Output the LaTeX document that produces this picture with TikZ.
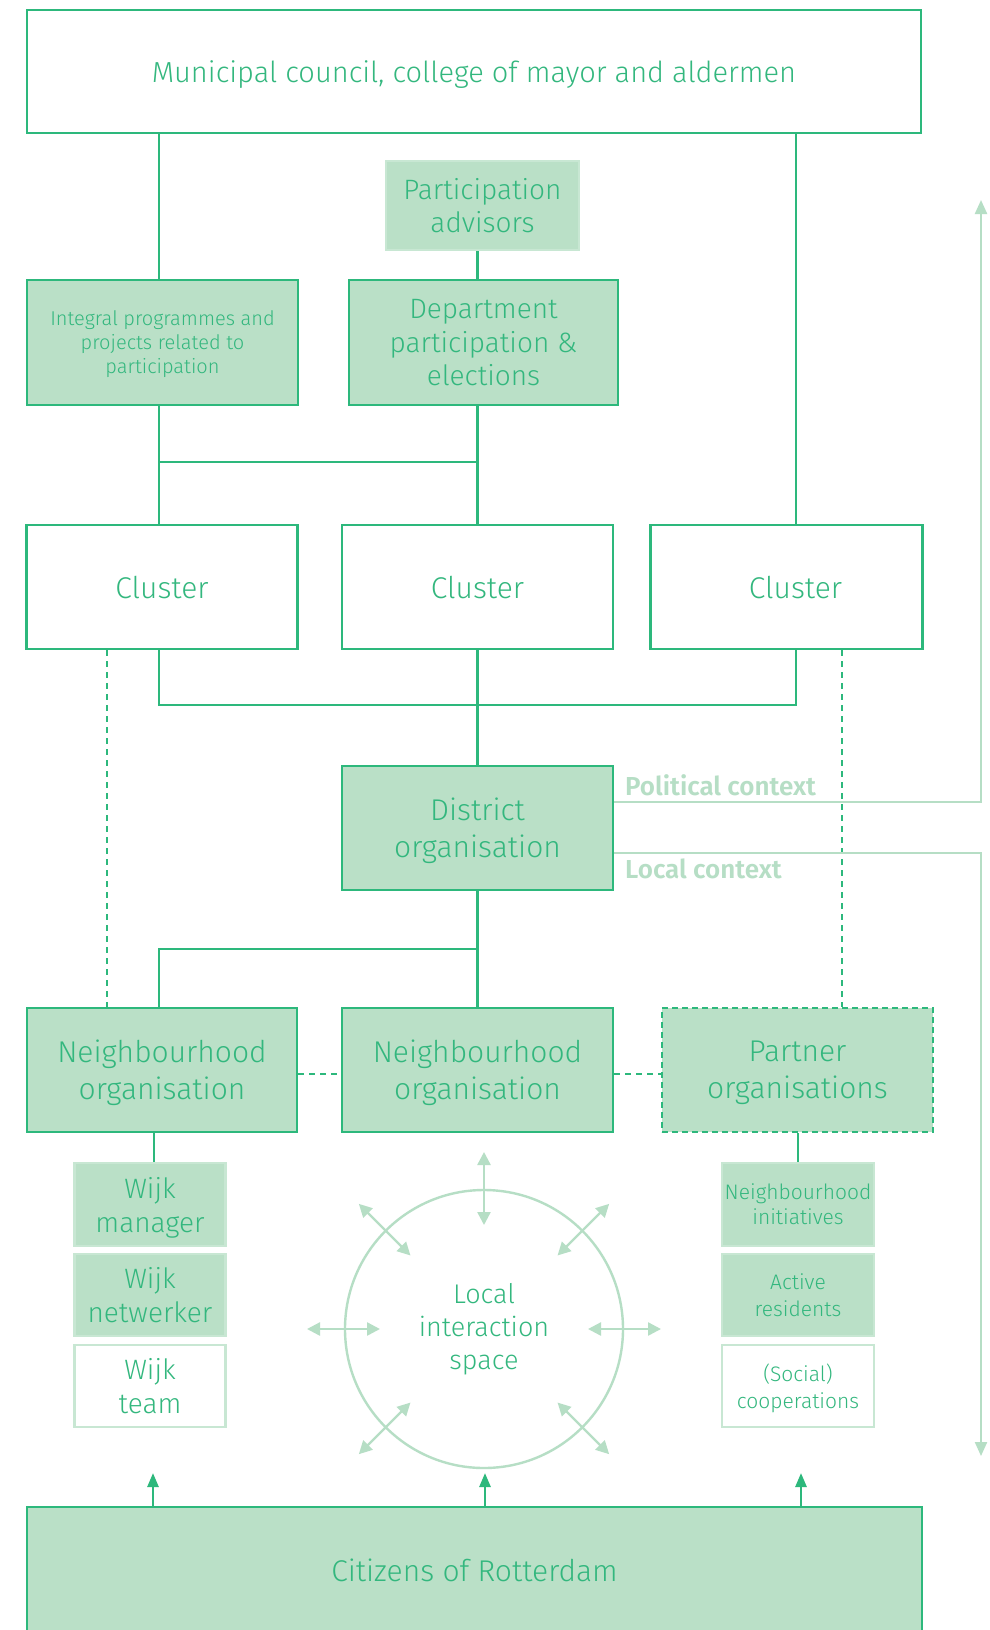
\documentclass[tikz,border=0pt]{standalone}
\usepackage{fontspec}
\setmainfont{Fira Sans Light}[BoldFont={Fira Sans SemiBold}]
\usetikzlibrary{arrows.meta,calc}
\definecolor{dkgreen}{HTML}{2DB87C}
\definecolor{txtgreen}{HTML}{33B77E}
\definecolor{ltgreen}{HTML}{BAE0C7}
\definecolor{ltline}{HTML}{B6DEC5}
\definecolor{paleline}{HTML}{C8E7D3}
\newcommand\fsz[2]{\fontsize{#1}{#2}\selectfont}
\tikzset{
  base/.style={text=txtgreen, align=center, inner sep=0pt, text depth=0pt, line width=2.8pt},
  whitebox/.style={base, draw=dkgreen, fill=white},
  fillbox/.style={base, draw=dkgreen, fill=ltgreen},
  palebox/.style={base, draw=paleline, fill=ltgreen, line width=2.2pt},
  paleopen/.style={base, draw=paleline, fill=white, line width=2.2pt},
  link/.style={draw=dkgreen, line width=2.6pt},
  dlink/.style={link, dash pattern=on 6pt off 5pt},
  ctx/.style={draw=ltline, line width=2.2pt},
  ctxlabel/.style={text=ltline, font=\fsz{26}{30}\bfseries, inner sep=0pt},
  lisarrow/.style={draw=ltline, line width=2.4pt,
    {Triangle[width=13pt,length=13pt]}-{Triangle[width=13pt,length=13pt]}},
  uparrow/.style={link, -{Triangle[width=11pt,length=14pt]}},
  ctxtip/.style={-{Triangle[width=12pt,length=14pt]}}
}
\begin{document}
\begin{tikzpicture}[x=1pt,y=-1pt]
\clip (0,0) rectangle (989,1630);
\fill[white] (0,0) rectangle (989,1630);

% helper coordinates for connector positions
\coordinate (xL) at (159,0);
\coordinate (xR) at (796,0);
\coordinate (xW) at (154,0);
\coordinate (xDL) at (107,0);
\coordinate (xDR) at (842,0);
\coordinate (busA) at (477.5,462);
\coordinate (busB) at (477.5,705);
\coordinate (busC) at (477.5,949);
\coordinate (yD) at (0,1074);
\coordinate (yPol) at (0,802);
\coordinate (yLoc) at (0,853);
\coordinate (ctxTop) at (981,200);
\coordinate (ctxBot) at (981,1456);
\coordinate (aL) at (153,1473);
\coordinate (aM) at (485,1473);
\coordinate (aR) at (801,1473);

% boxes
\node[whitebox, minimum width=894pt, minimum height=123pt, font=\fsz{29}{35}] (top) at (474,71.5) {Municipal council, college of mayor and aldermen};
\node[palebox, minimum width=193pt, minimum height=89pt, font=\fsz{28}{33}] (padv) at (482.5,205.5) {Participation\\advisors};
\node[fillbox, minimum width=271pt, minimum height=125pt, font=\fsz{20}{24}] (integ) at (162.5,342.5) {Integral programmes and\\projects related to\\participation};
\node[fillbox, minimum width=269pt, minimum height=125pt, font=\fsz{28}{33.5}] (dept) at (483.5,342.5) {Department\\participation \&\\elections};

\node[whitebox, minimum width=271pt, minimum height=124pt, font=\fsz{30}{36}] (c1) at (162,587) {Cluster};
\node[whitebox, minimum width=271pt, minimum height=124pt, font=\fsz{30}{36}] (c2) at (477.5,587) {Cluster};
\node[whitebox, minimum width=272pt, minimum height=124pt, font=\fsz{30}{36}] (c3) at (786.5,587) {\hspace*{18pt}Cluster};

\node[fillbox, minimum width=271pt, minimum height=124pt, font=\fsz{30}{37}] (district) at (477.5,828) {District\\organisation};

\node[fillbox, minimum width=270pt, minimum height=124pt, font=\fsz{30}{37}] (nb1) at (162,1070) {Neighbourhood\\organisation};
\node[fillbox, minimum width=271pt, minimum height=124pt, font=\fsz{30}{37}] (nb2) at (477.5,1070) {Neighbourhood\\organisation};
\node[fillbox, dash pattern=on 6pt off 4pt, minimum width=271pt, minimum height=124pt, font=\fsz{30}{37}] (partner) at (797.5,1070) {Partner\\organisations};

\node[palebox, minimum width=151pt, minimum height=83pt, font=\fsz{28}{34}] (wm) at (150,1204.5) {Wijk\\manager};
\node[palebox, minimum width=151pt, minimum height=82pt, font=\fsz{28}{34}] (wn) at (150,1295) {Wijk\\netwerker};
\node[paleopen, minimum width=151pt, minimum height=82pt, font=\fsz{28}{34}] (wt) at (150,1386) {Wijk\\team};

\node[palebox, minimum width=152pt, minimum height=83pt, font=\fsz{21}{25}] (ni) at (798,1204.5) {Neighbourhood\\initiatives};
\node[palebox, minimum width=152pt, minimum height=82pt, font=\fsz{21}{27}] (ar) at (798,1295) {Active\\residents};
\node[paleopen, minimum width=152pt, minimum height=82pt, font=\fsz{21}{27}] (sc) at (798,1386) {(Social)\\cooperations};

\node[circle, draw=ltline, line width=2.4pt, minimum size=278pt, inner sep=0pt, text=txtgreen, align=center, font=\fsz{27}{33}] (lis) at (484,1329) {Local\\interaction\\space};

\node[fillbox, minimum width=895pt, minimum height=126pt, font=\fsz{30}{36}] (cit) at (474.5,1570) {Citizens of Rotterdam};

% hierarchy connectors
\draw[link] (top.south -| xL) -- (integ.north -| xL);
\draw[link] (padv.south -| c2.north) -- (dept.north -| c2.north);
\draw[link] (top.south -| xR) -- (c3.north -| xR);
\draw[link] (integ.south -| xL) -- (c1.north -| xL);
\draw[link] (dept.south -| c2.north) -- (c2.north);
\draw[link] (busA -| xL) -- (busA);
\draw[link] (c1.south -| xL) |- (busB) -| (c3.south -| xR);
\draw[link] (c2.south) -- (district.north);
\draw[link] (district.south) -- (nb2.north);
\draw[link] (busC) -| (nb1.north -| xL);
\draw[link] (nb1.south -| xW) -- (wm.north -| xW);
\draw[link] (partner.south -| ni.north) -- (ni.north);

% dashed relations
\draw[dlink] (c1.south -| xDL) -- (nb1.north -| xDL);
\draw[dlink] (c3.south -| xDR) -- (partner.north -| xDR);
\draw[dlink] (nb1.east |- yD) -- (nb2.west |- yD);
\draw[dlink] (nb2.east |- yD) -- (partner.west |- yD);

% political and local context
\draw[ctx, ctxtip] (district.east |- yPol) -| (ctxTop);
\draw[ctx, ctxtip] (district.east |- yLoc) -| (ctxBot);
\node[ctxlabel, anchor=base west] (pol) at (625,795) {Political context};
\node[ctxlabel, anchor=base west] (loc) at (625,878) {Local context};

% arrows around the local interaction space (page directions; none pointing down)
\foreach \a in {0,45,90,135,180,225,315}
  \draw[lisarrow] ($(lis.center)+(\a:104pt)$) -- ($(lis.center)+(\a:177pt)$);

% citizens feeding upwards
\draw[uparrow] (cit.north -| aL) -- (aL);
\draw[uparrow] (cit.north -| aM) -- (aM);
\draw[uparrow] (cit.north -| aR) -- (aR);
\end{tikzpicture}
\end{document}
